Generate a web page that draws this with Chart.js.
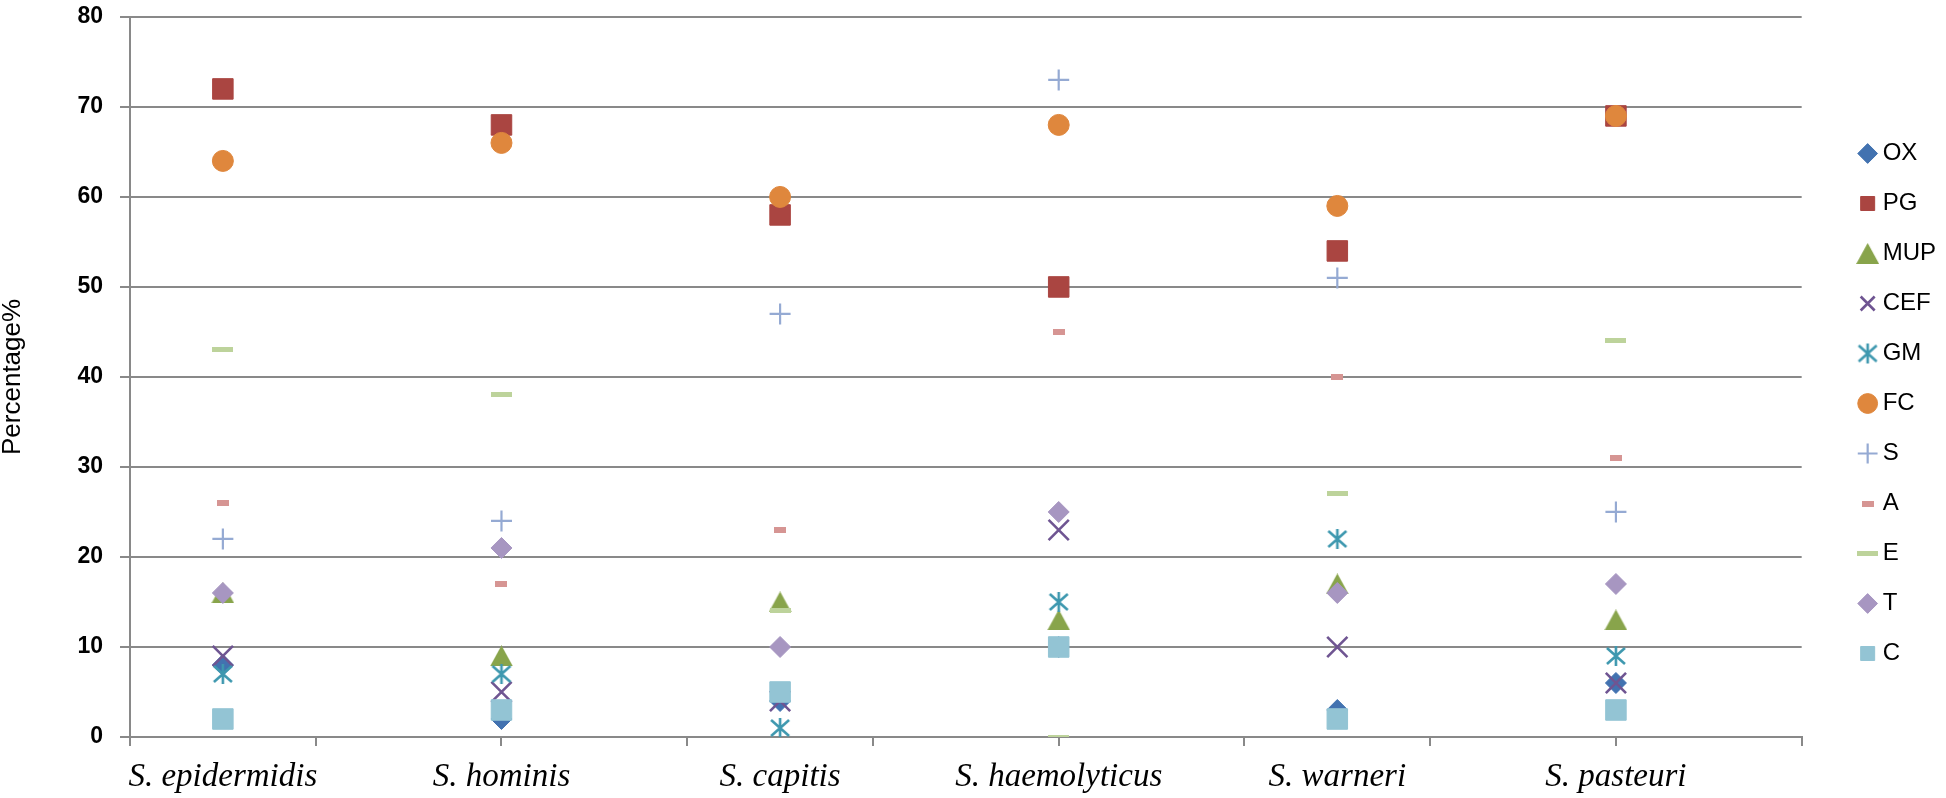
<!DOCTYPE html>
<html><head><meta charset="utf-8">
<script src="https://cdn.jsdelivr.net/npm/chart.js@4/dist/chart.umd.min.js"></script>
<style>html,body{margin:0;padding:0;background:#fff;} canvas{display:block;}</style>
</head><body>
<canvas id="c" width="1946" height="798"></canvas>
<script>
// ---- data ----
const categories = ['S. epidermidis', 'S. hominis', 'S. capitis', 'S. haemolyticus', 'S. warneri', 'S. pasteuri'];
const OX  = [8, 2, 4, 10, 3, 6];
const PG  = [72, 68, 58, 50, 54, 69];
const MUP = [16, 9, 15, 13, 17, 13];
const CEF = [9, 5, 4, 23, 10, 6];
const GM  = [7, 7, 1, 15, 22, 9];
const FC  = [64, 66, 60, 68, 59, 69];
const S   = [22, 24, 47, 73, 51, 25];
const A   = [26, 17, 23, 45, 40, 31];
const E   = [43, 38, 14, 0, 27, 44];
const T   = [16, 21, 10, 25, 16, 17];
const C   = [2, 3, 5, 10, 2, 3];
const yTickValues = [0, 10, 20, 30, 40, 50, 60, 70, 80];

// ---- layout helpers ----
const GRID = '#898989';
const catX = categories.map((_, i) => 0.5 + 1.5 * i);
const tickMarks = [0, 1, 2, 3, 4, 5, 6, 7, 8, 9];
const xTickVals = Array.from(new Set([...tickMarks, ...catX])).sort((a, b) => a - b);
const pts = vals => vals.map((v, i) => ({x: catX[i], y: v}));

function makeCanvas(w, h, draw) {
  const c = document.createElement('canvas');
  c.width = w; c.height = h;
  draw(c.getContext('2d'), w, h);
  return c;
}
const COL = {
  OX: '#4272B0', PG: '#AA4541', MUP: '#88A44B', CEF: '#6F5592', GM: '#3E98AF', FC: '#DF873D',
  S: '#95AAD3', A: '#D69593', E: '#BDD39B', T: '#A796C1', C: '#93C4D4'
};
const asterisk = makeCanvas(22, 22, (g, w, h) => {
  g.strokeStyle = COL.GM; g.lineWidth = 2.6; g.lineCap = 'butt';
  g.beginPath();
  g.moveTo(w / 2, 1); g.lineTo(w / 2, h - 1);
  g.moveTo(2, 3); g.lineTo(w - 2, h - 3);
  g.moveTo(w - 2, 3); g.lineTo(2, h - 3);
  g.stroke();
});
const triangle = makeCanvas(23, 21, (g, w, h) => {
  g.fillStyle = COL.MUP;
  g.beginPath(); g.moveTo(w / 2, 0); g.lineTo(w, h); g.lineTo(0, h); g.closePath(); g.fill();
});
const dashA = makeCanvas(12, 6, (g, w, h) => { g.fillStyle = COL.A; g.fillRect(0, 0, w, h); });
const dashE = makeCanvas(21, 5, (g, w, h) => { g.fillStyle = COL.E; g.fillRect(0, 0, w, h); });

const datasets = [
  {label: 'OX',  data: pts(OX),  pointStyle: 'rectRot', pointRadius: 10.5, backgroundColor: COL.OX, borderColor: COL.OX, borderWidth: 1},
  {label: 'PG',  data: pts(PG),  pointStyle: 'rect', pointRadius: 14.5, backgroundColor: COL.PG, borderColor: COL.PG, borderWidth: 1},
  {label: 'MUP', data: pts(MUP), pointStyle: triangle, pointRadius: 11, backgroundColor: COL.MUP, borderColor: COL.MUP, borderWidth: 0},
  {label: 'CEF', data: pts(CEF), pointStyle: 'crossRot', pointRadius: 14.3, backgroundColor: COL.CEF, borderColor: COL.CEF, borderWidth: 2.6},
  {label: 'GM',  data: pts(GM),  pointStyle: asterisk, pointRadius: 11, backgroundColor: COL.GM, borderColor: COL.GM, borderWidth: 0},
  {label: 'FC',  data: pts(FC),  pointStyle: 'circle', pointRadius: 10.5, backgroundColor: COL.FC, borderColor: COL.FC, borderWidth: 1},
  {label: 'S',   data: pts(S),   pointStyle: 'cross', pointRadius: 10.5, backgroundColor: COL.S, borderColor: COL.S, borderWidth: 2.2},
  {label: 'A',   data: pts(A),   pointStyle: dashA, pointRadius: 6, backgroundColor: COL.A, borderColor: COL.A, borderWidth: 0},
  {label: 'E',   data: pts(E),   pointStyle: dashE, pointRadius: 10, backgroundColor: COL.E, borderColor: COL.E, borderWidth: 0},
  {label: 'T',   data: pts(T),   pointStyle: 'rectRot', pointRadius: 10.5, backgroundColor: COL.T, borderColor: COL.T, borderWidth: 1},
  {label: 'C',   data: pts(C),   pointStyle: 'rect', pointRadius: 14.5, backgroundColor: COL.C, borderColor: COL.C, borderWidth: 1}
];
datasets.forEach((d, i) => {
  d.order = datasets.length - i;
  d.showLine = false;
  d.pointHoverRadius = d.pointRadius;
});

new Chart(document.getElementById('c'), {
  type: 'scatter',
  data: {datasets},
  options: {
    responsive: false,
    animation: false,
    devicePixelRatio: 1,
    layout: {padding: {top: 9, left: 0, right: 0, bottom: 0}},
    plugins: {
      legend: {
        position: 'right', align: 'center',
        labels: {
          usePointStyle: true, boxWidth: 6, boxHeight: 14, padding: 26, color: '#000',
          font: {family: 'Liberation Sans', size: 24},
          sort: (a, b) => a.datasetIndex - b.datasetIndex
        }
      },
      tooltip: {enabled: false}
    },
    scales: {
      x: {
        type: 'linear', min: 0, max: 9, position: 'bottom',
        afterBuildTicks: s => { s.ticks = xTickVals.map(v => ({value: v})); },
        afterFit: s => { s.height = 61; s.paddingLeft = 0; s.paddingRight = 0; },
        grid: {
          drawOnChartArea: false, drawTicks: true, tickLength: 9, lineWidth: 2, tickWidth: 2,
          tickColor: c => (tickMarks.includes(c.tick.value) ? GRID : 'rgba(0,0,0,0)')
        },
        border: {display: true, color: GRID, width: 2},
        ticks: {
          autoSkip: false, maxRotation: 0, minRotation: 0, padding: 12, color: '#000',
          font: {family: 'Liberation Serif', style: 'italic', size: 33},
          callback: v => { const k = catX.indexOf(v); return k >= 0 ? categories[k] : ''; }
        }
      },
      y: {
        type: 'linear', min: 0, max: 80,
        afterBuildTicks: s => { s.ticks = yTickValues.map(v => ({value: v})); },
        ticks: {padding: 17, color: '#000', font: {family: 'Liberation Sans', size: 23, weight: 'bold'}},
        grid: {color: GRID, lineWidth: 2, tickLength: 10, drawTicks: true, tickColor: GRID},
        border: {display: true, color: GRID, width: 2},
        title: {display: true, text: 'Percentage%', color: '#000', font: {family: 'Liberation Sans', size: 26, lineHeight: 1}, padding: {top: 0, bottom: 0}},
        afterFit: s => { s.width = 130; s.paddingTop = 0; s.paddingBottom = 0; }
      },
      yPad: {
        type: 'linear', position: 'right', display: true,
        grid: {display: false}, border: {display: false}, ticks: {display: false},
        afterFit: s => { s.width = 37; }
      }
    }
  }
});
</script>
</body></html>
